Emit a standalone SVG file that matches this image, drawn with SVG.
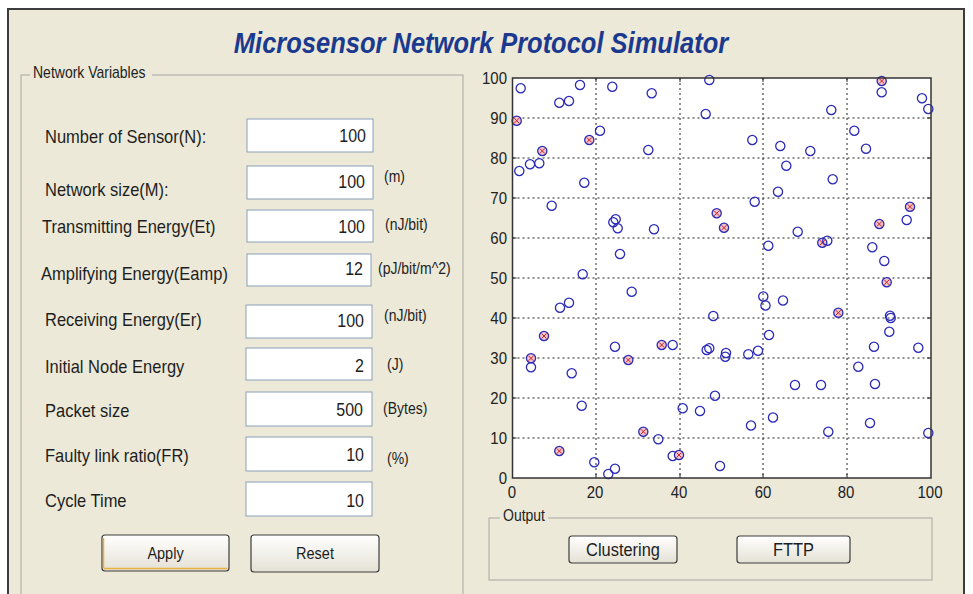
<svg xmlns="http://www.w3.org/2000/svg" xmlns:xlink="http://www.w3.org/1999/xlink" width="973" height="594" viewBox="0 0 973 594">
<style>
.t{font-family:"Liberation Sans",Arial,sans-serif;fill:#1e1e1e}
.lb{font-size:16.5px}
.v{font-size:16px;text-anchor:end}
.u{font-size:14px}
.ax{font-size:15px;fill:#222}
.ay{text-anchor:end}
.axx{text-anchor:middle}
.btn{font-size:14.5px;text-anchor:middle}
.btn2{font-size:16.4px;text-anchor:middle}
.gb{font-size:14px}
.title{font-size:25.5px;font-weight:bold;font-style:italic;fill:#1b3a8f;text-anchor:middle}
.box{fill:#fff;stroke:#8aa0b8;stroke-width:1}
.etch{fill:none;stroke:#a8a6a0;stroke-width:1}
.grid{stroke:#222;stroke-width:1;stroke-dasharray:2 3;fill:none}
.b{stroke:#3a3a3a;stroke-width:1.2}
</style>
<defs>
<linearGradient id="bg" x1="0" y1="0" x2="0" y2="1">
<stop offset="0" stop-color="#ffffff"/><stop offset="1" stop-color="#e4e1d4"/>
</linearGradient>
<g id="n"><circle r="4.6" fill="none" stroke="#2b2bb8" stroke-width="1.3"/></g>
<g id="h"><circle r="4.6" fill="#f1c4c8" stroke="#2b2bb8" stroke-width="1.3"/><path d="M-2.5,-2.5L2.5,2.5M-2.5,2.5L2.5,-2.5" stroke="#d02030" stroke-width="1"/></g>
</defs>
<rect width="973" height="594" fill="#ffffff"/>
<g id="window">
<rect x="8" y="9" width="956" height="600" fill="#ece9d8" stroke="#3c3c3c" stroke-width="2"/>
</g>
<g id="title">
<text class="t title" transform="translate(481,53) scale(1,1.15)">Microsensor Network Protocol Simulator</text>
</g>
<g id="network-variables">
<rect class="etch" x="21" y="75" width="442" height="540"/>
<rect x="30" y="68" width="122" height="12" fill="#ece9d8"/>
<text class="t gb" transform="translate(33,78) scale(1,1.15)">Network Variables</text>
</g>
<g id="field-n">
<text class="t lb" transform="translate(45,143) scale(1,1.15)">Number of Sensor(N):</text>
<rect class="box" x="247" y="119" width="126" height="33"/>
<text class="t v" transform="translate(366,142) scale(1,1.15)">100</text>
</g>
<g id="field-m">
<text class="t lb" transform="translate(45,196) scale(1,1.15)">Network size(M):</text>
<rect class="box" x="247" y="166" width="126" height="33"/>
<text class="t v" transform="translate(365,188) scale(1,1.15)">100</text>
<text class="t u" transform="translate(384,182) scale(1,1.15)">(m)</text>
</g>
<g id="field-et">
<text class="t lb" transform="translate(42,233) scale(1,1.15)">Transmitting Energy(Et)</text>
<rect class="box" x="247" y="210" width="126" height="32"/>
<text class="t v" transform="translate(365,233) scale(1,1.15)">100</text>
<text class="t u" transform="translate(385,230) scale(1,1.15)">(nJ/bit)</text>
</g>
<g id="field-eamp">
<text class="t lb" transform="translate(41,280) scale(1,1.15)">Amplifying Energy(Eamp)</text>
<rect class="box" x="247" y="254" width="124" height="32"/>
<text class="t v" transform="translate(363,275) scale(1,1.15)">12</text>
<text class="t u" transform="translate(378,274) scale(1,1.15)">(pJ/bit/m^2)</text>
</g>
<g id="field-er">
<text class="t lb" transform="translate(45,326) scale(1,1.15)">Receiving Energy(Er)</text>
<rect class="box" x="246" y="305" width="126" height="33"/>
<text class="t v" transform="translate(364,327) scale(1,1.15)">100</text>
<text class="t u" transform="translate(384,321) scale(1,1.15)">(nJ/bit)</text>
</g>
<g id="field-init">
<text class="t lb" transform="translate(45,373) scale(1,1.15)">Initial Node Energy</text>
<rect class="box" x="246" y="348" width="126" height="32"/>
<text class="t v" transform="translate(364,372) scale(1,1.15)">2</text>
<text class="t u" transform="translate(387,370) scale(1,1.15)">(J)</text>
</g>
<g id="field-packet">
<text class="t lb" transform="translate(45,417) scale(1,1.15)">Packet size</text>
<rect class="box" x="246" y="392" width="126" height="34"/>
<text class="t v" transform="translate(363,416) scale(1,1.15)">500</text>
<text class="t u" transform="translate(383,414) scale(1,1.15)">(Bytes)</text>
</g>
<g id="field-fr">
<text class="t lb" transform="translate(45,462) scale(1,1.15)">Faulty link ratio(FR)</text>
<rect class="box" x="246" y="437" width="126" height="34"/>
<text class="t v" transform="translate(364,461) scale(1,1.15)">10</text>
<text class="t u" transform="translate(387,464) scale(1,1.15)">(%)</text>
</g>
<g id="field-cycle">
<text class="t lb" transform="translate(45,507) scale(1,1.15)">Cycle Time</text>
<rect class="box" x="246" y="482" width="126" height="34"/>
<text class="t v" transform="translate(364,507) scale(1,1.15)">10</text>
</g>
<g id="btn-apply">
<rect x="102" y="535" width="127" height="36" rx="3" fill="url(#bg)" stroke="#3c3c3c" stroke-width="1.2"/>
<path d="M104,568.5H227M103.5,538V568" stroke="#e8b040" stroke-width="1.5" fill="none"/>
<text class="t btn" transform="translate(165.5,559) scale(1,1.15)">Apply</text>
</g>
<g id="btn-reset">
<rect x="251" y="535" width="128" height="37" rx="3" fill="url(#bg)" stroke="#3c3c3c" stroke-width="1.2"/>
<text class="t btn" transform="translate(315,559) scale(1,1.15)">Reset</text>
</g>
<g id="plot">
<rect x="512.5" y="78" width="418.5" height="400" fill="#ffffff"/>
<g id="grid">
<path class="grid" d="M596,78V478M680,78V478M763,78V478M847,78V478"/>
<path class="grid" d="M512.5,438H931M512.5,398H931M512.5,358H931M512.5,318H931M512.5,278H931M512.5,238H931M512.5,198H931M512.5,158H931M512.5,118H931"/>
</g>
<path d="M596,478v-4M680,478v-4M763,478v-4M847,478v-4M596,78v4M680,78v4M763,78v4M847,78v4M512.5,438h4M512.5,398h4M512.5,358h4M512.5,318h4M512.5,278h4M512.5,238h4M512.5,198h4M512.5,158h4M512.5,118h4M931,438h-4M931,398h-4M931,358h-4M931,318h-4M931,278h-4M931,238h-4M931,198h-4M931,158h-4M931,118h-4" stroke="#222" stroke-width="1"/>
<g id="sensors">
<use href="#n" x="520.7" y="88.3"/>
<use href="#h" x="516.7" y="120.7"/>
<use href="#n" x="519.3" y="171"/>
<use href="#n" x="530" y="164.3"/>
<use href="#n" x="539.3" y="163.3"/>
<use href="#h" x="542.3" y="151"/>
<use href="#n" x="551.7" y="205.7"/>
<use href="#n" x="559.3" y="102.7"/>
<use href="#n" x="569" y="101"/>
<use href="#n" x="580" y="85"/>
<use href="#n" x="584.3" y="182.7"/>
<use href="#h" x="589.3" y="140"/>
<use href="#n" x="600" y="130.7"/>
<use href="#n" x="612.3" y="86.7"/>
<use href="#n" x="613.3" y="222.3"/>
<use href="#n" x="615.7" y="219.3"/>
<use href="#n" x="617.7" y="228.3"/>
<use href="#n" x="620" y="254"/>
<use href="#n" x="648.3" y="150"/>
<use href="#n" x="651.7" y="93.3"/>
<use href="#n" x="654" y="229.3"/>
<use href="#n" x="705.7" y="114"/>
<use href="#n" x="709.3" y="80"/>
<use href="#h" x="716.7" y="213.3"/>
<use href="#h" x="724" y="227.7"/>
<use href="#n" x="752.3" y="140"/>
<use href="#n" x="754.7" y="201.7"/>
<use href="#n" x="768.3" y="245.7"/>
<use href="#n" x="778" y="191.7"/>
<use href="#n" x="780.3" y="146"/>
<use href="#n" x="786.3" y="165.7"/>
<use href="#n" x="797.7" y="231.7"/>
<use href="#n" x="810.3" y="151"/>
<use href="#h" x="822.3" y="242.7"/>
<use href="#n" x="827.3" y="240.7"/>
<use href="#n" x="831.3" y="110"/>
<use href="#n" x="832.7" y="179.3"/>
<use href="#n" x="854.3" y="130.7"/>
<use href="#n" x="866" y="148.7"/>
<use href="#n" x="872.3" y="247.3"/>
<use href="#h" x="881.7" y="81"/>
<use href="#n" x="881.7" y="92.3"/>
<use href="#h" x="879.3" y="224"/>
<use href="#n" x="884.3" y="261"/>
<use href="#n" x="906.7" y="220"/>
<use href="#h" x="910" y="206.7"/>
<use href="#n" x="922" y="98.3"/>
<use href="#n" x="928.3" y="109"/>
<use href="#n" x="582.7" y="274.3"/>
<use href="#n" x="631.7" y="291.7"/>
<use href="#n" x="560" y="307.7"/>
<use href="#n" x="569" y="302.7"/>
<use href="#n" x="713.3" y="316"/>
<use href="#h" x="544" y="336"/>
<use href="#n" x="615" y="346.7"/>
<use href="#h" x="661.7" y="345"/>
<use href="#n" x="672.7" y="345"/>
<use href="#h" x="531" y="358.3"/>
<use href="#n" x="531" y="367.3"/>
<use href="#h" x="628.3" y="360"/>
<use href="#n" x="706.7" y="350"/>
<use href="#n" x="709.3" y="348.3"/>
<use href="#n" x="726" y="353"/>
<use href="#n" x="571.7" y="373.3"/>
<use href="#n" x="581.7" y="405.7"/>
<use href="#n" x="682.7" y="408.3"/>
<use href="#n" x="700" y="411"/>
<use href="#n" x="715" y="395.7"/>
<use href="#h" x="643.3" y="431.7"/>
<use href="#n" x="658.3" y="439.3"/>
<use href="#h" x="559.3" y="451"/>
<use href="#n" x="672.7" y="456"/>
<use href="#h" x="679" y="455"/>
<use href="#n" x="594.3" y="462.3"/>
<use href="#n" x="615" y="468.8"/>
<use href="#n" x="720" y="466"/>
<use href="#n" x="608.3" y="474"/>
<use href="#n" x="751" y="425.5"/>
<use href="#n" x="773" y="417.5"/>
<use href="#n" x="828.3" y="431.7"/>
<use href="#n" x="870" y="423"/>
<use href="#n" x="928.3" y="433"/>
<use href="#h" x="886.7" y="282.3"/>
<use href="#n" x="763.3" y="296.5"/>
<use href="#n" x="765.5" y="305.5"/>
<use href="#n" x="783" y="300.5"/>
<use href="#h" x="838.3" y="312.7"/>
<use href="#n" x="890" y="315.7"/>
<use href="#n" x="890.7" y="318"/>
<use href="#n" x="889.3" y="331.7"/>
<use href="#n" x="769" y="335"/>
<use href="#n" x="874" y="346.7"/>
<use href="#n" x="918.3" y="347.7"/>
<use href="#n" x="725.3" y="356.7"/>
<use href="#n" x="748.3" y="354.3"/>
<use href="#n" x="758" y="350.7"/>
<use href="#n" x="858.3" y="366.7"/>
<use href="#n" x="795" y="385"/>
<use href="#n" x="821" y="385"/>
<use href="#n" x="875" y="384"/>
</g>
<rect x="512.5" y="78" width="418.5" height="400" fill="none" stroke="#333" stroke-width="1.5"/>
<g id="y-labels">
<text class="t ax ay" transform="translate(507,84) scale(1,1.15)">100</text>
<text class="t ax ay" transform="translate(507,124) scale(1,1.15)">90</text>
<text class="t ax ay" transform="translate(507,164) scale(1,1.15)">80</text>
<text class="t ax ay" transform="translate(507,204) scale(1,1.15)">70</text>
<text class="t ax ay" transform="translate(507,244) scale(1,1.15)">60</text>
<text class="t ax ay" transform="translate(507,284) scale(1,1.15)">50</text>
<text class="t ax ay" transform="translate(507,324) scale(1,1.15)">40</text>
<text class="t ax ay" transform="translate(507,364) scale(1,1.15)">30</text>
<text class="t ax ay" transform="translate(507,404) scale(1,1.15)">20</text>
<text class="t ax ay" transform="translate(507,444) scale(1,1.15)">10</text>
<text class="t ax ay" transform="translate(507,484) scale(1,1.15)">0</text>
</g>
<g id="x-labels">
<text class="t ax axx" transform="translate(512,498) scale(1,1.15)">0</text>
<text class="t ax axx" transform="translate(595,498) scale(1,1.15)">20</text>
<text class="t ax axx" transform="translate(679,498) scale(1,1.15)">40</text>
<text class="t ax axx" transform="translate(763,498) scale(1,1.15)">60</text>
<text class="t ax axx" transform="translate(846,498) scale(1,1.15)">80</text>
<text class="t ax axx" transform="translate(930,498) scale(1,1.15)">100</text>
</g>
</g>
<g id="output">
<rect class="etch" x="489" y="518" width="443" height="62"/>
<rect x="500" y="510" width="48" height="12" fill="#ece9d8"/>
<text class="t gb" transform="translate(503,521) scale(1,1.15)">Output</text>
</g>
<g id="btn-clustering">
<rect x="569" y="536" width="108" height="27" rx="3" fill="url(#bg)" stroke="#3c3c3c" stroke-width="1.2"/>
<text class="t btn2" transform="translate(623,556) scale(1,1.15)">Clustering</text>
</g>
<g id="btn-fttp">
<rect x="737" y="536" width="113" height="27" rx="3" fill="url(#bg)" stroke="#3c3c3c" stroke-width="1.2"/>
<text class="t btn2" transform="translate(793.5,556) scale(1,1.15)">FTTP</text>
</g>
</svg>
